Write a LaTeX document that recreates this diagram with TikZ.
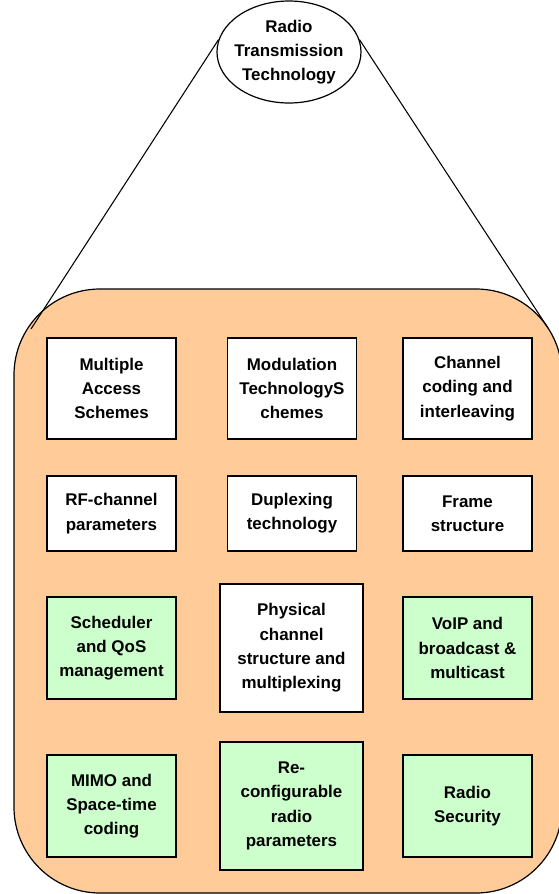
\documentclass[tikz,border=0pt]{standalone}
\usepackage{fontspec}
\setmainfont{Liberation Sans}
\usepackage{xcolor}
\usepackage{tikz}
\usetikzlibrary{shapes.geometric}

\definecolor{areaorange}{HTML}{FFCC99}
\definecolor{featuregreen}{HTML}{CCFFCC}

\tikzset{
  block/.style={draw, line width=1.2pt, fill=white, align=center, inner sep=2pt,
    minimum width=96.5pt, font=\bfseries\fontsize{12.7}{18.2}\selectfont},
  feature/.style={block, fill=featuregreen, minimum height=76.5pt},
  tallblock/.style={block, minimum width=107.25pt, minimum height=96pt},
}

\begin{document}
\begin{tikzpicture}[x=0.75pt, y=-0.75pt]
            \useasboundingbox (0,0) rectangle (558,894);
            % area and its corners
            \draw[fill=areaorange, line width=0.9pt, rounded corners=64.5pt] (14,289) rectangle (562,893);
            \coordinate (area-nw) at (31,329);
            \coordinate (area-ne) at (548,328);
            \node[ellipse, draw, fill=white, line width=0.9pt, minimum width=108pt, minimum height=76.5pt,
              label={[font=\bfseries\fontsize{12.7}{18.2}\selectfont, align=center]center:Radio\\Transmission\\Technology}]
              (rtt) at (289,52) {};
            \draw[line width=0.8pt] (rtt.170) -- (area-nw);
            \draw[line width=0.8pt] (rtt.10) -- (area-ne);
            % first row
            \node[block, minimum height=75.75pt] (access) at (111.5,388.5) {Multiple\\Access\\Schemes};
            \node[block, minimum height=75.75pt] (modulation) at (292,388.5) {Modulation\\TechnologyS\\chemes};
            \node[block, minimum height=75.75pt] (coding) at (467.5,388.5) {Channel\\coding and\\interleaving};
            % second row
            \node[block, minimum height=56.25pt] (rfchannel) at (111.5,513.5) {RF-channel\\parameters};
            \node[block, minimum height=56.25pt] (duplexing) at (292,513.5) {Duplexing\\technology};
            \node[block, minimum height=56.25pt] (frame) at (467.5,513.5) {Frame\\structure};
            % third row
            \node[feature] (scheduler) at (111.5,648) {Scheduler\\and QoS\\management};
            \node[tallblock] (physical) at (291.5,648) {Physical\\channel\\structure and\\multiplexing};
            \node[feature] (voip) at (467.5,648) {VoIP and\\broadcast \&\\multicast};
            % fourth row
            \node[feature] (mimo) at (111.5,806) {MIMO and\\Space-time\\coding};
            \node[tallblock, fill=featuregreen] (reconfig) at (291.5,806) {Re-\\configurable\\radio\\parameters};
            \node[feature] (security) at (467.5,806) {Radio\\Security};
\end{tikzpicture}
\end{document}
